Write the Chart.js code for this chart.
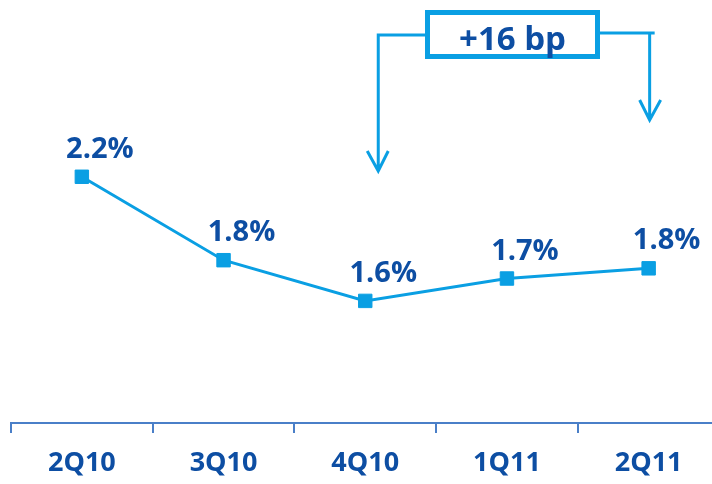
<!DOCTYPE html>
<html lang="en">
<head>
  <meta charset="UTF-8">
  <title>Quarterly ratio</title>
  <style>
    html, body { margin: 0; padding: 0; background: #fff; overflow: hidden; }
    #wrap { width: 712px; height: 484px; overflow: hidden; }
  </style>
  <script src="https://cdn.jsdelivr.net/npm/chart.js"></script>
</head>
<body>
  <div id="wrap">
    <canvas id="ratioLine" width="730" height="484"></canvas>
  </div>

  <script>
    const quarters = ["2Q10", "3Q10", "4Q10", "1Q11", "2Q11"];
    const ratio = [2.21, 1.80, 1.60, 1.71, 1.76];
    const changeText = "+16 bp";

    const lightBlue = "#0a9fe3";
    const darkBlue = "#0d4ea3";
    const axisBlue = "#4a7fc8";
    const font = "'Open Sans', sans-serif";

    // % labels just above and to the right of each square
    const valueLabels = {
      id: "valueLabels",
      afterDatasetsDraw(chart) {
        const ctx = chart.ctx;
        const meta = chart.getDatasetMeta(0);
        ctx.save();
        ctx.font = "bold 29px " + font;
        ctx.fillStyle = darkBlue;
        ctx.textAlign = "center";
        ctx.textBaseline = "alphabetic";
        meta.data.forEach((pt, i) => {
          ctx.fillText(ratio[i].toFixed(1) + "%", pt.x + 18, pt.y - 19);
        });
        ctx.restore();
      }
    };

    // boxed change callout with arrows down to 4Q10 and 2Q11
    const changeCallout = {
      id: "changeCallout",
      afterDraw(chart) {
        const ctx = chart.ctx;
        const x = chart.scales.x;
        const leftX = x.getPixelForValue(2) + 13;
        const rightX = x.getPixelForValue(4) + 1;
        const box = { l: 425, t: 10, r: 600, b: 59 };

        ctx.save();
        ctx.strokeStyle = lightBlue;
        ctx.lineWidth = 3;
        ctx.lineJoin = "miter";

        ctx.beginPath();
        ctx.moveTo(box.l, 35);
        ctx.lineTo(leftX, 35);
        ctx.lineTo(leftX, 171);
        ctx.moveTo(leftX - 11, 151);
        ctx.lineTo(leftX, 171);
        ctx.lineTo(leftX + 10, 151);

        ctx.moveTo(box.r, 33);
        ctx.lineTo(rightX + 5, 33);
        ctx.moveTo(rightX, 33);
        ctx.lineTo(rightX, 120);
        ctx.moveTo(rightX - 10, 100);
        ctx.lineTo(rightX, 120);
        ctx.lineTo(rightX + 11, 100);
        ctx.stroke();

        ctx.fillStyle = "#fff";
        ctx.fillRect(box.l, box.t, box.r - box.l, box.b - box.t);
        ctx.lineWidth = 5;
        ctx.strokeRect(box.l + 2.5, box.t + 2.5, box.r - box.l - 5, box.b - box.t - 5);

        ctx.font = "bold 33px " + font;
        ctx.fillStyle = darkBlue;
        ctx.textAlign = "center";
        ctx.textBaseline = "alphabetic";
        ctx.fillText(changeText, (box.l + box.r) / 2, 50);
        ctx.restore();
      }
    };

    new Chart("ratioLine", {
      type: "line",
      data: {
        labels: quarters,
        datasets: [{
          data: ratio,
          borderColor: lightBlue,
          borderWidth: 3,
          tension: 0,
          pointStyle: "rect",
          pointRadius: 9.5,
          pointHoverRadius: 9.5,
          pointBackgroundColor: lightBlue,
          pointBorderColor: lightBlue,
          pointBorderWidth: 1
        }]
      },
      options: {
        responsive: false,
        animation: false,
        events: [],
        layout: { padding: { top: 16, left: 11, right: 0, bottom: 0 } },
        plugins: {
          legend: { display: false },
          tooltip: { enabled: false }
        },
        scales: {
          x: {
            offset: true,
            afterFit(scale) { scale.height = 61; },
            grid: {
              offset: true,
              drawOnChartArea: false,
              drawTicks: true,
              tickLength: 10,
              color: axisBlue,
              lineWidth: 2
            },
            border: { display: true, color: axisBlue, width: 2 },
            ticks: {
              padding: 14,
              color: darkBlue,
              font: { family: font, size: 27, weight: "bold" }
            }
          },
          y: {
            display: false,
            min: 1,
            max: 3
          }
        }
      },
      plugins: [valueLabels, changeCallout]
    });
  </script>
</body>
</html>
